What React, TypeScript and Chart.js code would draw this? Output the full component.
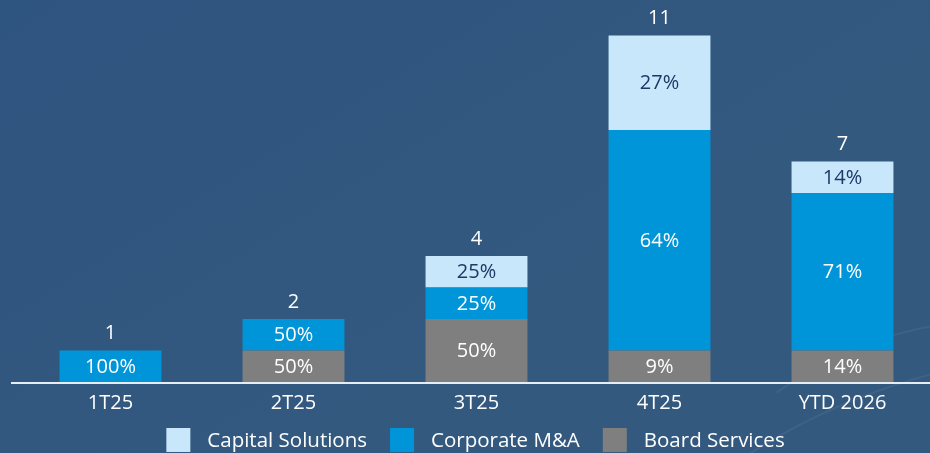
import React, { useEffect, useRef } from "react";
import { Chart, registerables } from "chart.js";

Chart.register(...registerables);

const categories = ["1T25", "2T25", "3T25", "4T25", "YTD 2026"];
const boardServices = [0, 1, 2, 1, 1];
const corporateMA = [1, 1, 1, 7, 5];
const capitalSolutions = [0, 0, 1, 3, 1];
const seriesNames = ["Board Services", "Corporate M&A", "Capital Solutions"];
const seriesColors = ["#7f7f7f", "#0095d8", "#c8e7fb"];
const labelColors = ["#ffffff", "#ffffff", "#1b3a66"];

const FONT = "'Open Sans', 'Noto Sans', sans-serif";

const totals = categories.map((_, i) => boardServices[i] + corporateMA[i] + capitalSolutions[i]);

const bgPlugin = {
  id: "bg",
  beforeDraw(chart: any) {
    const { ctx, width, height } = chart;
    ctx.save();
    const g = ctx.createLinearGradient(0, 0, width * 0.3, height);
    g.addColorStop(0, "#2e5480");
    g.addColorStop(1, "#33597f");
    ctx.fillStyle = g;
    ctx.fillRect(0, 0, width, height);
    ctx.strokeStyle = "rgba(255,255,255,0.06)";
    ctx.lineWidth = 2;
    ctx.beginPath();
    ctx.arc(1000, 700, 380, Math.PI * 1.3, Math.PI * 1.45);
    ctx.stroke();
    ctx.beginPath();
    ctx.moveTo(740, 460);
    ctx.quadraticCurveTo(830, 400, 940, 372);
    ctx.stroke();
    ctx.restore();
  },
};

const axisLinePlugin = {
  id: "axisLine",
  afterDatasetsDraw(chart: any) {
    const { ctx, chartArea, width } = chart;
    ctx.save();
    ctx.strokeStyle = "#e6edf4";
    ctx.lineWidth = 2;
    ctx.beginPath();
    ctx.moveTo(11, chartArea.bottom + 1);
    ctx.lineTo(width, chartArea.bottom + 1);
    ctx.stroke();
    ctx.restore();
  },
};

const labelPlugin = {
  id: "segLabels",
  afterDatasetsDraw(chart: any) {
    const { ctx } = chart;
    ctx.save();
    ctx.font = `20px ${FONT}`;
    ctx.textAlign = "center";
    ctx.textBaseline = "middle";
    const tops: number[] = categories.map(() => Infinity);
    chart.data.datasets.forEach((ds: any, di: number) => {
      const meta = chart.getDatasetMeta(di);
      meta.data.forEach((el: any, i: number) => {
        const v = ds.data[i];
        if (!v) return;
        const { x, y, base } = el.getProps(["x", "y", "base"], true);
        tops[i] = Math.min(tops[i], y);
        const pct = Math.round((v / totals[i]) * 100) + "%";
        ctx.fillStyle = labelColors[di];
        ctx.fillText(pct, x, (y + base) / 2 + 1);
      });
    });
    const meta0 = chart.getDatasetMeta(0);
    ctx.fillStyle = "#ffffff";
    meta0.data.forEach((el: any, i: number) => {
      ctx.fillText(String(totals[i]), el.x, tops[i] - 17);
    });
    ctx.restore();
  },
};

const legendPlugin = {
  id: "customLegend",
  afterDraw(chart: any) {
    const { ctx, chartArea } = chart;
    ctx.save();
    ctx.font = `20.5px ${FONT}`;
    ctx.textBaseline = "middle";
    ctx.textAlign = "left";
    const order = [2, 1, 0];
    const box = 24;
    const gapText = 17;
    const gapItem = 23;
    const widths = order.map((i) => box + gapText + ctx.measureText(seriesNames[i]).width);
    const total = widths.reduce((a, b) => a + b, 0) + gapItem * (order.length - 1);
    let x = (chartArea.left + chartArea.right) / 2 - 1 - total / 2;
    const yTop = 428;
    order.forEach((i, k) => {
      ctx.fillStyle = seriesColors[i];
      ctx.fillRect(x, yTop, box, box);
      ctx.fillStyle = "#ffffff";
      ctx.fillText(seriesNames[i], x + box + gapText, yTop + box / 2 + 1);
      x += widths[k] + gapItem;
    });
    ctx.restore();
  },
};

export default function App() {
  const ref = useRef<HTMLCanvasElement>(null);
  useEffect(() => {
    document.body.style.margin = "0";
    document.body.style.overflow = "hidden";
    const chart = new Chart(ref.current!, {
      type: "bar",
      data: {
        labels: categories,
        datasets: [boardServices, corporateMA, capitalSolutions].map((d, i) => ({
          label: seriesNames[i],
          data: d,
          backgroundColor: seriesColors[i],
          borderWidth: 0,
          categoryPercentage: 0.8,
          barPercentage: 0.696,
        })),
      },
      options: {
        animation: false,
        responsive: true,
        maintainAspectRatio: false,
        layout: { padding: { left: 19, right: 6, top: 4, bottom: 29 } },
        scales: {
          x: {
            stacked: true,
            grid: { display: false, drawTicks: false },
            border: { display: false },
            ticks: { color: "#ffffff", font: { family: FONT, size: 20 }, padding: 9 },
          },
          y: {
            stacked: true,
            display: false,
            min: 0,
            max: 12,
          },
        },
        plugins: {
          tooltip: { enabled: false },
          legend: { display: false },
        },
      },
      plugins: [bgPlugin, axisLinePlugin, labelPlugin, legendPlugin],
    });
    return () => chart.destroy();
  }, []);
  return (
    <div style={{ position: "absolute", left: 0, top: 0, width: 940, height: 453 }}>
      <canvas ref={ref} />
    </div>
  );
}
